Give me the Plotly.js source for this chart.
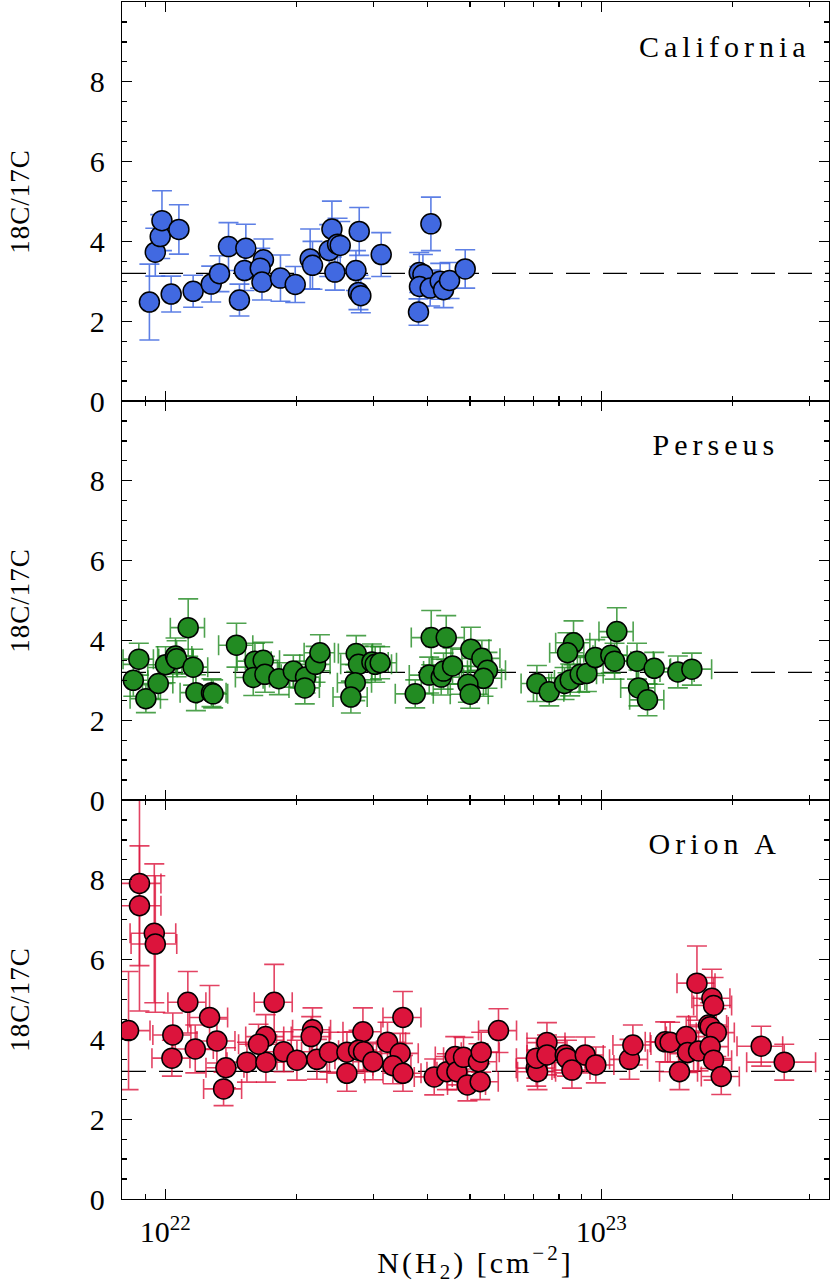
<!DOCTYPE html>
<html>
<head>
<meta charset="utf-8">
<script src="https://cdn.plot.ly/plotly-3.0.1.min.js"></script>
<style>
  body { margin: 0; background: #fff; }
  #chart { width: 830px; height: 1285px; }
  #chart text.annotation-text { letter-spacing: 5px; }
  #chart text.xtitle { letter-spacing: 3px; }
  #chart text.ytitle, #chart text.y2title, #chart text.y3title { letter-spacing: 1px; }
</style>
</head>
<body>
<div id="chart"></div>
<script>
// column density N(H2) in units of 1e22 cm^-2, ratio 18C/17C and errors

// California
const calX = [0.92, 0.949, 0.974, 0.983, 1.075, 1.032, 1.159, 1.275, 1.332, 1.397,
              1.48, 1.531, 1.52, 1.68, 1.652, 1.667, 1.838, 1.987, 2.15, 2.177,
              2.412, 2.378, 2.485, 2.52, 2.45, 2.786, 2.738, 2.775, 2.81, 3.129,
              4.068, 3.825, 3.90, 3.83, 4.053, 4.273, 4.349, 4.489, 3.81, 4.876];
const calY = [2.48, 3.73, 4.12, 4.52, 4.30, 2.68, 2.75, 2.93, 3.19, 3.87,
              2.53, 3.83, 3.27, 3.54, 3.33, 2.98, 3.08, 2.92, 3.56, 3.40,
              4.31, 3.77, 3.93, 3.90, 3.23, 4.25, 3.27, 2.72, 2.64, 3.67,
              4.44, 3.22, 3.17, 2.87, 2.83, 3.00, 2.79, 3.02, 2.23, 3.31];
const calErr = [0.95, 0.6, 0.55, 0.75, 0.62, 0.45, 0.4, 0.45, 0.45, 0.6,
                0.4, 0.6, 0.5, 0.52, 0.5, 0.45, 0.58, 0.45, 0.75, 0.6,
                0.7, 0.65, 0.65, 0.6, 0.45, 0.6, 0.5, 0.43, 0.43, 0.55,
                0.67, 0.5, 0.5, 0.5, 0.45, 0.45, 0.45, 0.45, 0.33, 0.48];

// Perseus
const perX = [0.870, 0.845, 0.903, 0.964, 1.002, 1.056, 1.062, 1.129, 1.159, 1.176,
              1.277, 1.288, 1.457, 1.606, 1.678, 1.592, 1.693, 1.823, 1.967, 2.098,
              2.09, 2.212, 2.264, 2.742, 2.776, 2.728, 2.666, 2.979, 3.031, 3.112,
              3.745, 4.075, 4.411, 4.032, 4.296, 4.349, 4.560, 5.024, 5.325, 5.484,
              5.370, 4.946, 5.006, 7.12, 7.60, 8.24, 8.49, 8.64, 8.37, 8.95,
              9.27, 9.69, 10.52, 10.73, 10.86, 12.08, 12.18, 12.77, 13.23, 14.99, 16.14];
const perY = [3.53, 3.00, 2.54, 2.92, 3.39, 3.61, 3.54, 4.32, 3.33, 2.69,
              2.69, 2.66, 3.88, 3.48, 3.50, 3.07, 3.15, 3.04, 3.23, 3.08,
              2.81, 3.40, 3.69, 3.67, 3.40, 2.94, 2.58, 3.46, 3.40, 3.44,
              2.66, 4.07, 4.07, 3.13, 3.08, 3.23, 3.36, 3.78, 3.55, 3.25,
              3.05, 2.90, 2.65, 2.92, 2.71, 2.92, 3.01, 3.94, 3.69, 3.15,
              3.17, 3.57, 3.63, 3.48, 4.22, 3.48, 2.81, 2.51, 3.30, 3.21, 3.28];
const perErrY = [0.4, 0.4, 0.35, 0.4, 0.45, 0.45, 0.45, 0.72, 0.45, 0.45,
                 0.35, 0.35, 0.55, 0.45, 0.45, 0.45, 0.45, 0.4, 0.4, 0.4,
                 0.4, 0.45, 0.45, 0.45, 0.45, 0.45, 0.4, 0.45, 0.45, 0.4,
                 0.35, 0.68, 0.55, 0.45, 0.45, 0.45, 0.45, 0.55, 0.45, 0.45,
                 0.45, 0.45, 0.35, 0.45, 0.35, 0.4, 0.4, 0.55, 0.5, 0.45,
                 0.45, 0.45, 0.45, 0.45, 0.6, 0.45, 0.45, 0.4, 0.4, 0.4, 0.4];
const perErrXpct = [8, 8, 8, 8, 9, 9, 9, 9, 8, 8,
                    8, 8, 9, 9, 9, 9, 9, 8, 8, 8,
                    8, 8, 8, 9, 9, 9, 9, 9, 9, 9,
                    10, 10, 10, 10, 10, 10, 10, 10, 10, 10,
                    10, 10, 10, 8, 8, 8, 8, 9, 9, 9,
                    9, 9, 9, 9, 9, 9, 9, 9, 9, 9, 11];

// Orion A
const oriX = [0.824, 0.873, 0.873, 0.944, 0.949, 1.041, 1.036, 1.127, 1.172, 1.264,
              1.314, 1.378, 1.361, 1.540, 1.702, 1.70, 1.637, 1.778, 1.868, 2.005,
              2.177, 2.162, 2.228, 2.381, 2.611, 2.61, 2.841, 2.776, 2.850, 2.995,
              3.235, 3.459, 3.509, 3.328, 3.51, 4.14, 4.427, 4.626, 4.667, 4.833,
              4.935, 5.230, 5.278, 5.306, 5.813, 7.095, 7.144, 7.10, 7.508, 7.51,
              8.27, 8.345, 8.567, 9.19, 9.72, 11.61, 11.82, 14.02, 14.39, 15.12,
              15.67, 15.78, 16.58, 16.72, 17.94, 18.10, 17.63, 17.78, 18.36, 17.78,
              18.10, 18.85, 23.28, 26.29];
const oriY = [4.22, 7.91, 7.35, 6.66, 6.39, 4.11, 3.53, 4.93, 3.76, 4.55,
              3.96, 3.29, 2.76, 3.43, 3.43, 4.07, 3.88, 4.93, 3.69, 3.48,
              4.24, 4.07, 3.50, 3.68, 3.68, 3.15, 4.19, 3.73, 3.69, 3.44,
              3.93, 3.65, 4.55, 3.34, 3.15, 3.06, 3.19, 3.57, 3.19, 3.55,
              2.86, 3.44, 2.94, 3.68, 4.22, 3.28, 3.19, 3.53, 3.92, 3.61,
              3.61, 3.53, 3.23, 3.61, 3.36, 3.50, 3.86, 3.94, 3.93, 3.19,
              4.07, 3.67, 5.41, 3.71, 5.03, 4.85, 4.36, 4.32, 4.17, 3.82,
              3.48, 3.07, 3.83, 3.43];
const oriErrY = [1.48, 3.2, 1.5, 1.74, 1.71, 0.55, 0.45, 0.77, 0.6, 0.8,
                 0.55, 0.5, 0.42, 0.5, 0.5, 0.55, 0.5, 0.95, 0.5, 0.5,
                 0.55, 0.5, 0.5, 0.5, 0.5, 0.45, 0.6, 0.5, 0.5, 0.45,
                 0.5, 0.5, 0.65, 0.45, 0.45, 0.45, 0.45, 0.5, 0.45, 0.5,
                 0.4, 0.45, 0.45, 0.5, 0.55, 0.45, 0.45, 0.5, 0.5, 0.5,
                 0.45, 0.45, 0.45, 0.45, 0.45, 0.5, 0.5, 0.5, 0.5, 0.45,
                 0.5, 0.5, 0.93, 0.5, 0.73, 0.7, 0.65, 0.6, 0.6, 0.55,
                 0.5, 0.45, 0.5, 0.45];
const oriErrXpct = [12, 12, 12, 12, 12, 10, 10, 10, 10, 10,
                    10, 10, 10, 10, 10, 10, 10, 10, 10, 10,
                    10, 10, 10, 10, 10, 10, 10, 10, 10, 10,
                    10, 10, 10, 10, 10, 10, 10, 10, 10, 10,
                    10, 10, 10, 10, 10, 10, 10, 10, 10, 10,
                    10, 10, 10, 10, 10, 10, 10, 10, 10, 10,
                    10, 10, 10, 10, 10, 10, 10, 10, 10, 10,
                    10, 10, 12, 18];

const refRatio = 3.2;
const panelNames = ['California', 'Perseus', 'Orion A'];

const FONT = 'Liberation Serif, DejaVu Serif, serif';
const xs = v => v.map(d => d * 1e22);

function series(x, y, ey, exPct, color, errColor, xa, ya) {
    const tr = {
        x: xs(x), y: y, type: 'scatter', mode: 'markers',
        xaxis: xa, yaxis: ya,
        marker: { size: 20, color: color, line: { color: '#000', width: 1.5 } },
        error_y: { type: 'data', array: ey, color: errColor, thickness: 1.6, width: 10 },
        hoverinfo: 'x+y', showlegend: false
    };
    if (exPct) {
        tr.error_x = { type: 'data', array: x.map((d, i) => d * 1e22 * exPct[i] / 100),
                       color: errColor, thickness: 1.6, width: 10 };
    }
    return tr;
}

const data = [
    series(calX, calY, calErr, null, '#4169e1', 'rgba(65,105,225,0.85)', 'x3', 'y3'),
    series(perX, perY, perErrY, perErrXpct, '#228b22', 'rgba(34,139,34,0.8)', 'x2', 'y2'),
    series(oriX, oriY, oriErrY, oriErrXpct, '#dc143c', 'rgba(220,20,60,0.8)', 'x', 'y')
];

// minor tick positions for the log axis
const minorX = [];
for (let e = 21; e <= 23; e++) {
    for (let m = 2; m <= 9; m++) minorX.push(m * Math.pow(10, e));
}

const xRange = [Math.log10(7.96e21), Math.log10(3.33e23)];

function xAxis(anchor, labels) {
    return {
        type: 'log', range: xRange, anchor: anchor,
        tickvals: [1e22, 1e23],
        ticktext: ['10<sup>22</sup>', '10<sup>23</sup>'],
        showticklabels: labels,
        ticks: 'inside', ticklen: 10, tickwidth: 1.3, tickcolor: '#000',
        minor: { tickvals: minorX, ticks: 'inside', ticklen: 5, tickwidth: 1.2, tickcolor: '#000' },
        showline: true, linecolor: '#000', linewidth: 1.2, mirror: 'allticks',
        showgrid: false, zeroline: false,
        tickfont: { family: FONT, size: 30, color: '#000' },
        ticklabelstandoff: 6
    };
}

function yAxis(domain, anchor) {
    return {
        domain: domain, anchor: anchor, range: [0, 10],
        tickvals: [0, 2, 4, 6, 8],
        ticks: 'inside', ticklen: 10, tickwidth: 1.3, tickcolor: '#000',
        minor: { dtick: 0.5, ticks: 'inside', ticklen: 5, tickwidth: 1.2, tickcolor: '#000' },
        showline: true, linecolor: '#000', linewidth: 1.2, mirror: 'allticks',
        showgrid: false, zeroline: false,
        tickfont: { family: FONT, size: 30, color: '#000' },
        ticklabelstandoff: 10,
        title: { text: '18C/17C', font: { family: FONT, size: 27, color: '#000' }, standoff: 52 }
    };
}

const xAx = xAxis('y', true);
xAx.title = { text: 'N(H<sub>2</sub>) [cm<sup>−2</sup>]', font: { family: FONT, size: 30, color: '#000' }, standoff: 4 };

const yaxes = [['y3', 'x3', [2 / 3, 1]], ['y2', 'x2', [1 / 3, 2 / 3]], ['y', 'x', [0, 1 / 3]]];

const shapes = yaxes.map(([ya, xa]) => ({
    type: 'line', xref: xa + ' domain', yref: ya, x0: 0, x1: 1, y0: refRatio, y1: refRatio,
    line: { color: '#000', width: 1.3, dash: '24px,13px' }, layer: 'below'
}));

const labelPos = [[0.942, 0.889], [0.908, 0.892], [0.911, 0.891]];
const annotations = yaxes.map(([ya, xa], i) => ({
    text: panelNames[i], xref: xa + ' domain', yref: ya + ' domain',
    x: labelPos[i][0], y: labelPos[i][1], xanchor: 'right', yanchor: 'middle',
    showarrow: false, font: { family: FONT, size: 30, color: '#000' }
}));

const layout = {
    width: 830, height: 1285,
    margin: { l: 122, r: 1, t: 2, b: 86 },
    paper_bgcolor: '#fff', plot_bgcolor: '#fff',
    xaxis: xAx,
    xaxis2: xAxis('y2', false),
    xaxis3: xAxis('y3', false),
    yaxis: yAxis([0, 1 / 3], 'x'),
    yaxis2: yAxis([1 / 3, 2 / 3], 'x2'),
    yaxis3: yAxis([2 / 3, 1], 'x3'),
    shapes: shapes,
    annotations: annotations
};

Plotly.newPlot('chart', data, layout, { staticPlot: true });
</script>
</body>
</html>
